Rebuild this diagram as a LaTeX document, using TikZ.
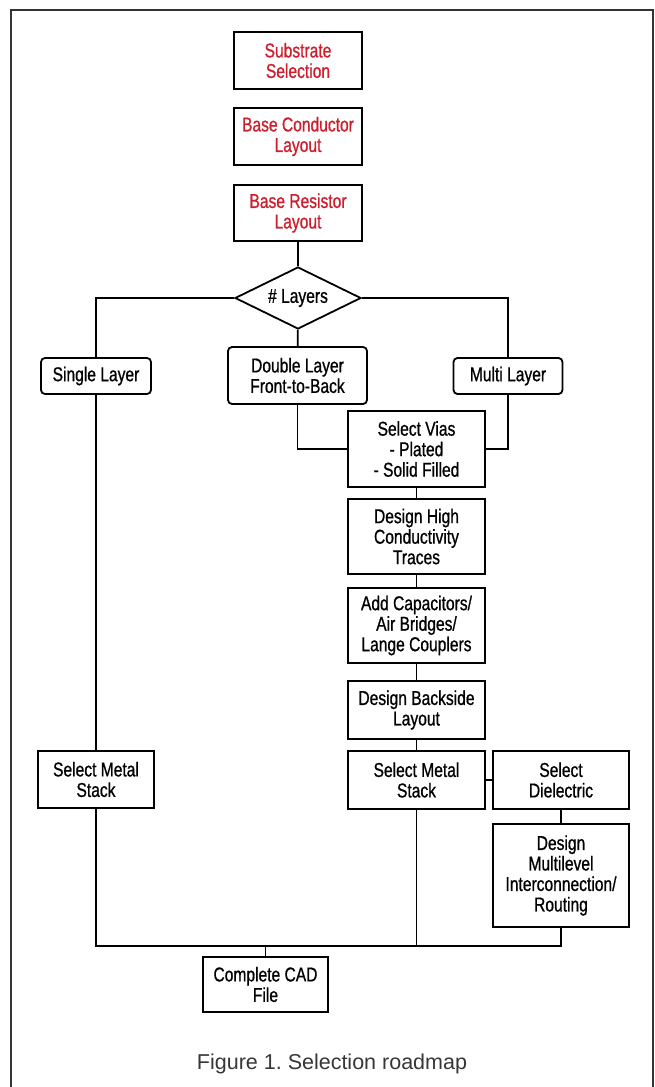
\documentclass[tikz,border=0pt]{standalone}
\usepackage{fontspec}
\setmainfont{Liberation Sans}
\newfontfamily\boxfont{Liberation Sans}[FakeStretch=0.78,FakeBold=0.8]
\usetikzlibrary{shapes.geometric}
\definecolor{stepred}{RGB}{204,30,44}
\definecolor{capgray}{RGB}{55,55,55}
\begin{document}
\begin{tikzpicture}
[x=1pt,y=-1pt,
  boxdecorate/.style={shape=rectangle,draw,line width=1.8pt,inner sep=1pt,align=center,
    font=\boxfont\fontsize{20}{20.5}\selectfont},
  roundbox/.style={boxdecorate,rounded corners=4pt},
  redtext/.style={text=stepred},
  linedecorate/.style={-,line width=1.8pt}]
\useasboundingbox (0,0) rectangle (655,1087);
%% frame
\draw[line width=1.6pt,black!80] (11,1090) -- (11,10) -- (653,10) -- (653,1090);
%% nodes or steps
\node (subs) at (298,60.5) [boxdecorate,redtext,minimum width=128pt,minimum height=57pt] {Substrate\\Selection};
\node (cond) at (298,136.5) [boxdecorate,redtext,minimum width=128pt,minimum height=57pt] {Base Conductor\\Layout};
\node (res) at (298,213) [boxdecorate,redtext,minimum width=128pt,minimum height=56pt] {Base Resistor\\Layout};
\node (lay) at (298,298) [boxdecorate,shape=diamond,shape aspect=2,inner sep=0pt,
  minimum width=126pt,minimum height=62pt] {\# Layers};
\node (single) at (96,376) [roundbox,minimum width=110pt,minimum height=36pt] {Single Layer};
\node (double) at (297.5,375.5) [roundbox,minimum width=139pt,minimum height=57pt] {Double Layer\\Front-to-Back};
\node (multi) at (508,376) [roundbox,minimum width=109pt,minimum height=36pt] {Multi Layer};
\node (vias) at (416.5,449) [boxdecorate,minimum width=137pt,minimum height=76pt] {Select Vias\\- Plated\\- Solid Filled};
\node (high) at (416.5,536.5) [boxdecorate,minimum width=137pt,minimum height=75pt] {Design High\\Conductivity\\Traces};
\node (caps) at (416.5,625.5) [boxdecorate,minimum width=137pt,minimum height=75pt] {Add Capacitors/\\Air Bridges/\\Lange Couplers};
\node (back) at (416.5,710) [boxdecorate,minimum width=137pt,minimum height=58pt] {Design Backside\\Layout};
\node (metalR) at (416.5,780) [boxdecorate,minimum width=137pt,minimum height=58pt] {Select Metal\\Stack};
\node (diel) at (561,780) [boxdecorate,minimum width=136pt,minimum height=58pt] {Select\\Dielectric};
\node (route) at (561,875.5) [boxdecorate,minimum width=136pt,minimum height=103pt] {Design\\Multilevel\\Interconnection/\\Routing};
\node (metalL) at (96,779.5) [boxdecorate,minimum width=116pt,minimum height=57pt] {Select Metal\\Stack};
\node (cad) at (265.5,984.5) [boxdecorate,minimum width=125pt,minimum height=55pt] {Complete CAD\\File};
\coordinate (bus) at (265.5,946);
%% edges or lines
\draw[linedecorate] (res) -- (lay);
\draw[linedecorate] (lay.west) -| (single);
\draw[linedecorate] (lay.east) -| (multi);
\draw[linedecorate] (lay) -- (double);
\draw[linedecorate] (double) |- (vias);
\draw[linedecorate] (multi) |- (vias);
\path
\foreach \startnode/\endnode in {vias/high, high/caps, caps/back, back/metalR, metalR/diel, diel/route, single/metalL} {
  (\startnode) edge[linedecorate] (\endnode)
};
\draw[linedecorate] (metalL) |- (bus) -| (route);
\draw[linedecorate] (metalR) -- (metalR |- bus);
\draw[linedecorate] (bus) -- (cad);
%% caption
\node (caption) at (332,1064) [text=capgray,font=\fontsize{21.5}{24}\selectfont] {Figure 1.\ Selection roadmap};
\end{tikzpicture}
\end{document}
